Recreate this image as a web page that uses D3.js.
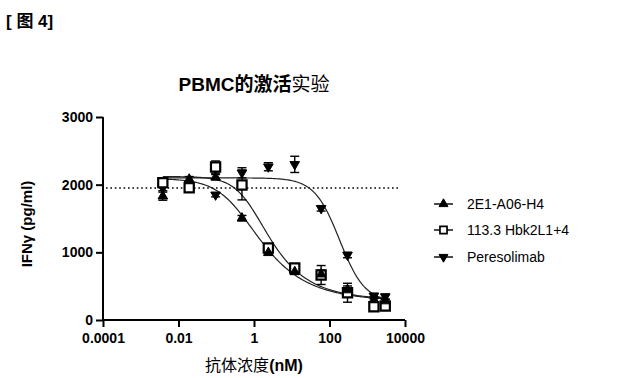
<!DOCTYPE html>
<html><head><meta charset="utf-8">
<script src="https://cdn.jsdelivr.net/npm/d3@7"></script>
<style>body{margin:0;background:#fff}svg{display:block}text{font-family:"Liberation Sans",Arial,"Noto Sans CJK SC",sans-serif}</style>
</head><body><svg id="c" width="621" height="378"></svg>
<script>
// Concentrations (nM)
const conc = [0.00384, 0.0192, 0.096, 0.48, 2.4, 12, 60, 300, 1500, 3000];
// Series means (pg/ml)
const s2E1 = [1830, 2080, 2110, 1505, 995, 713, 677, 443, 300, 280];
const s113 = [2030, 1955, 2260, 1995, 1063, 768, 665, 403, 196, 207];
const sPere = [1950, 1980, 1850, 2175, 2265, 2300, 1650, 960, 355, 345];
// Error (SEM)
const e2E1 = [60, 40, 40, 40, 40, 40, 60, 60, 40, 30];
const e113 = [60, 60, 90, 220, 40, 40, 140, 140, 40, 40];
const ePere = [40, 40, 30, 75, 60, 120, 40, 40, 40, 40];
// 5PL fit parameters: [top, bottom, EC50, hill, asymmetry]
const fit2E1 = [2090, 280, 0.40, 1.0, 0.45];
const fit113 = [2120, 300, 0.81, 1.3, 0.40];
const fitPere = [2100, 265, 185, 1.3, 1.0];
const refLine = 1950;
const xTicks = [0.0001, 0.01, 1, 100, 10000];
const xTickLabels = ["0.0001", "0.01", "1", "100", "10000"];
const yTicks = [0, 1000, 2000, 3000];
const names = ["2E1-A06-H4", "113.3 Hbk2L1+4", "Peresolimab"];

const svg = d3.select("#c");
const x = d3.scaleLog().domain([0.0001, 10000]).range([103, 405]);
const y = d3.scaleLinear().domain([0, 3000]).range([320, 117]);

svg.append("text").attr("x", 6).attr("y", 27).attr("font-size", 17).attr("font-weight", "bold").text("[ 图 4]");

const t = svg.append("text").attr("x", 254).attr("y", 91).attr("text-anchor", "middle").attr("font-size", 19);
t.append("tspan").attr("font-weight", "bold").text("PBMC的激活");
t.append("tspan").text("实验");

// Axes
const yAxis = svg.append("g").attr("transform", "translate(103,0)")
  .call(d3.axisLeft(y).tickValues(yTicks).tickSize(7).tickPadding(3).tickFormat(d3.format("d")));
const xAxis = svg.append("g").attr("transform", "translate(0,320)")
  .call(d3.axisBottom(x).tickValues(xTicks).tickSize(7).tickPadding(6).tickFormat((d, i) => xTickLabels[i]));
[yAxis, xAxis].forEach(g => {
  g.select(".domain").attr("stroke", "#000").attr("stroke-width", 2);
  g.selectAll(".tick line").attr("stroke", "#000").attr("stroke-width", 2);
  g.selectAll("text").attr("font-size", 14).attr("font-weight", "bold").attr("fill", "#000")
    .style("font-family", '"Liberation Sans",Arial,sans-serif');
});
xAxis.select(".domain").attr("d", "M102,0H405");
yAxis.select(".domain").attr("d", "M0,117V321");

svg.append("text").attr("transform", "translate(32,224) rotate(-90)").attr("text-anchor", "middle")
  .attr("font-size", 15).attr("font-weight", "bold").text("IFNγ (pg/ml)");
const xl = svg.append("text").attr("x", 254).attr("y", 371).attr("text-anchor", "middle").attr("font-size", 16);
xl.append("tspan").text("抗体浓度");
xl.append("tspan").attr("font-weight", "bold").text("(nM)");

// Reference dotted line
svg.append("line").attr("x1", 106).attr("x2", 400).attr("y1", y(refLine)).attr("y2", y(refLine))
  .attr("stroke", "#000").attr("stroke-width", 1.6).attr("stroke-dasharray", "1.6,2.8");

// Fitted curves (5-parameter logistic)
function f5(p, c) { return p[1] + (p[0] - p[1]) / Math.pow(1 + Math.pow(c / p[2], p[3]), p[4]); }
const l0 = Math.log10(conc[0]), l1 = Math.log10(conc[conc.length - 1]);
const lx = d3.range(0, 161).map(i => Math.pow(10, l0 + i * (l1 - l0) / 160));
[fit2E1, fit113, fitPere].forEach(p => {
  svg.append("path").attr("d", d3.line().x(d => x(d)).y(d => y(f5(p, d)))(lx))
    .attr("fill", "none").attr("stroke", "#222").attr("stroke-width", 1.2);
});

const sym = [d3.symbolTriangle, d3.symbolSquare, d3.symbolTriangle];
const rot = [0, 0, 180];
const fills = ["#000", "#fff", "#000"];
const series = [[s2E1, e2E1], [s113, e113], [sPere, ePere]];
// error bars
series.forEach(([vals, errs]) => {
  vals.forEach((v, i) => {
    const cx = x(conc[i]);
    const g = svg.append("g").attr("stroke", "#000").attr("stroke-width", 1.4);
    g.append("line").attr("x1", cx).attr("x2", cx).attr("y1", y(v - errs[i])).attr("y2", y(v + errs[i]));
    [v - errs[i], v + errs[i]].forEach(e => g.append("line").attr("x1", cx - 4.5).attr("x2", cx + 4.5).attr("y1", y(e)).attr("y2", y(e)));
  });
});
// markers
[2, 1, 0].forEach(k => {
  const vals = series[k][0];
  vals.forEach((v, i) => {
    svg.append("path").attr("d", d3.symbol().type(sym[k]).size(k === 1 ? 85 : 40)())
      .attr("transform", `translate(${x(conc[i])},${y(v)}) rotate(${rot[k]})`)
      .attr("fill", fills[k]).attr("stroke", "#000").attr("stroke-width", k === 1 ? 2.2 : 1);
  });
});

// Legend
const ly = [204, 230, 257];
names.forEach((n, k) => {
  svg.append("line").attr("x1", 434).attr("x2", 453).attr("y1", ly[k]).attr("y2", ly[k]).attr("stroke", "#000").attr("stroke-width", 1.4);
  svg.append("path").attr("d", d3.symbol().type(sym[k]).size(k === 1 ? 50 : 35)())
    .attr("transform", `translate(443.5,${ly[k]}) rotate(${rot[k]})`)
    .attr("fill", fills[k]).attr("stroke", "#000").attr("stroke-width", k === 1 ? 1.7 : 1);
  svg.append("text").attr("x", 467).attr("y", ly[k] + 5).attr("font-size", 14).text(n);
});
</script></body></html>
